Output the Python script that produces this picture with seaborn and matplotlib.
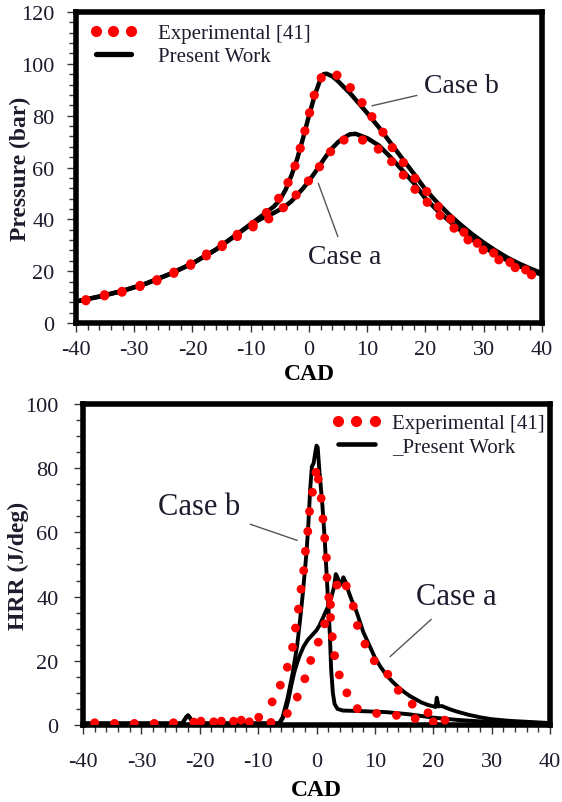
import matplotlib
matplotlib.use("Agg")
import matplotlib.pyplot as plt
from matplotlib.lines import Line2D
from matplotlib.ticker import MultipleLocator
import seaborn as sns

# --- Pressure : experimental points
p_exp_b_cad = [-38.3, -35.1, -32.1, -29.0, -26.1, -23.2, -20.3, -17.6, -14.9, -12.3, -9.6, -7.3,
               -5.2, -3.6, -2.4, -1.5, -0.7, 0.1, 0.9, 2.1, 4.8, 7.1, 9.1, 10.8, 12.7, 14.3,
               16.2, 18.2, 20.2, 22.2, 24.3, 26.6, 28.9, 31.7, 34.5, 37.2]
p_exp_b = [9.0, 10.9, 12.2, 14.5, 16.7, 19.6, 22.8, 26.6, 30.2, 34.2, 38.0, 42.6,
           48.1, 54.2, 60.6, 67.4, 74.1, 81.1, 87.9, 94.6, 95.6, 90.8, 85.0, 79.6, 73.6, 67.7,
           61.9, 55.8, 50.7, 44.9, 40.1, 35.0, 30.8, 27.0, 23.4, 20.5]
p_exp_a_cad = [-38.3, -35.1, -32.1, -29.0, -26.1, -23.2, -20.3, -17.6, -14.9, -12.3, -9.6, -6.9,
               -4.4, -2.2, -0.1, 1.8, 3.7, 6.0, 9.2, 11.9, 14.2, 16.2, 18.2, 20.3, 22.5, 24.9,
               27.3, 29.9, 32.6, 35.4, 38.2]
p_exp_a = [8.6, 10.5, 11.9, 14.1, 16.3, 19.2, 22.3, 25.9, 29.5, 33.4, 37.1, 40.2,
           44.5, 49.4, 54.8, 60.3, 66.1, 70.6, 70.6, 67.1, 62.3, 57.1, 51.6, 46.6, 41.5, 36.6,
           32.1, 28.2, 24.4, 21.4, 18.6]

# --- Pressure : present work
p_sim_cad = [-40, -36, -32, -28, -24, -20, -16, -12, -10, -8, -6, -5, -4, -3, -2, -1, 0, 1, 2,
             2.5, 3, 4, 5, 6, 7, 8, 10, 12, 14, 16, 18, 20, 22, 24, 26, 28, 30, 32, 34, 36, 38, 40]
p_sim_b = [8.3, 10.2, 12.4, 15.2, 18.8, 23.0, 28.3, 34.8, 38.2, 41.5, 45.0, 47.5, 51.5, 57.0,
           63.5, 71.5, 80.0, 88.0, 94.3, 96.0, 96.2, 95.2, 93.3, 91.0, 88.8, 86.2, 81.0, 75.5,
           69.5, 63.5, 57.6, 51.5, 46.5, 42.0, 38.0, 34.3, 31.0, 28.0, 25.3, 23.0, 21.0, 19.2]
p_sim_a = [8.3, 10.2, 12.4, 15.2, 18.8, 23.0, 28.3, 34.8, 38.0, 40.5, 42.5, 43.8, 45.2, 47.0,
           49.5, 52.0, 54.8, 58.0, 61.3, 63.0, 64.6, 67.5, 69.8, 71.5, 72.8, 73.0, 71.3, 68.5,
           64.0, 59.0, 54.0, 48.0, 43.5, 39.5, 35.8, 32.3, 29.3, 26.6, 24.2, 22.0, 20.2, 18.6]

# --- HRR : experimental points
h_exp_b_cad = [-38.0, -31.2, -24.5, -17.6, -14.2, -9.9, -7.6, -6.2, -5.0, -4.1, -3.6, -3.1,
               -2.65, -2.2, -1.9, -1.5, -1.2, -0.7, -0.1, 0.3, 0.8, 1.1, 1.4, 1.7, 1.8, 2.1,
               2.4, 2.7, 3.1, 3.9, 5.2, 7.0, 10.3, 13.7, 16.9, 20.0]
h_exp_b = [0.7, 0.5, 0.7, 1.0, 1.2, 2.4, 7.2, 12.4, 18.0, 24.2, 30.2, 36.1,
           42.3, 48.1, 54.1, 60.3, 66.5, 72.5, 78.7, 76.6, 70.6, 64.2, 58.2, 52.1, 45.9, 39.7,
           33.5, 27.5, 21.6, 15.6, 10.0, 5.1, 3.6, 3.0, 2.0, 1.0]
h_exp_a_cad = [-34.6, -27.8, -21.0, -19.8, -16.3, -12.9, -11.5, -7.8, -5.0, -3.3, -2.0, -1.0,
               0.3, 1.4, 2.4, 3.5, 5.1, 6.3, 7.0, 8.3, 9.9, 12.2, 14.0, 16.4, 19.1, 22.0]
h_exp_a = [0.5, 0.5, 0.9, 1.2, 1.2, 1.5, 1.0, 0.8, 3.6, 8.7, 14.4, 20.1,
           25.8, 31.5, 37.5, 43.6, 43.3, 37.0, 31.0, 25.2, 20.0, 15.8, 10.8, 6.5, 3.8, 1.5]

# --- HRR : present work
h_sim_b_cad = [-40, -30, -23, -22.3, -22, -21.6, -21, -10, -7, -6.4, -5.8, -5.0, -4.1, -3.3,
               -2.8, -2.4, -2.1, -1.7, -1.4, -1.1, -0.8, -0.5, -0.2, 0.0, 0.2, 0.5, 1.0, 1.4,
               1.7, 2.0, 2.3, 2.5, 2.8, 3.1, 3.6, 4.5, 8, 12, 16, 20, 24, 30, 35, 40]
h_sim_b = [0.5, 0.5, 0.5, 2.5, 3.0, 2.0, 0.5, 0.5, 0.5, 0.5, 2.5, 8.0, 16.0, 25.0,
           33.0, 40.0, 46.0, 54.0, 62.5, 73.0, 80.5, 81.5, 85.0, 87.0, 86.5, 79.0, 68.6, 58.0,
           48.0, 38.0, 27.5, 17.5, 10.0, 6.5, 5.0, 4.5, 4.3, 4.0, 3.3, 2.3, 1.6, 0.9, 0.6, 0.5]
h_sim_a_cad = [-40, -30, -23, -22.3, -22, -21.6, -21, -10, -7, -6.3, -5.8, -5.3, -4.8, -4.3,
               -3.8, -3.3, -2.8, -2.2, -1.5, -1.0, -0.5, 0, 0.5, 1.0, 1.5, 2.0, 2.5, 3.0, 3.3,
               3.6, 4.0, 4.3, 4.6, 5.0, 5.5, 6.0, 6.5, 7.0, 8.0, 9.0, 10.0, 11.0, 12.0, 13.0,
               14.0, 15.0, 16.0, 17.0, 18.0, 19.0, 20.0, 20.4, 20.6, 20.9, 21.5, 22.0, 23.0,
               24.0, 26.0, 28.0, 30.0, 33.0, 36.0, 40.0]
h_sim_a = [0.5, 0.5, 0.5, 2.5, 3.0, 2.0, 0.5, 0.5, 0.5, 0.6, 2.0, 4.5, 8.0, 12.5,
           16.5, 19.5, 22.0, 24.5, 26.5, 27.5, 28.5, 29.5, 31.0, 33.0, 35.0, 37.0, 39.5, 43.0,
           47.0, 46.0, 43.5, 44.5, 46.0, 44.5, 41.5, 39.0, 37.0, 34.5, 29.0, 25.0, 21.0, 18.0,
           15.5, 13.5, 11.8, 10.3, 9.0, 8.0, 7.0, 6.3, 5.8, 5.6, 8.5, 5.8, 5.9, 5.5, 4.8,
           4.2, 3.2, 2.4, 1.8, 1.3, 1.0, 0.6]

TXT = "#1c1c2c"

sns.set_style("white")
plt.rcParams["font.family"] = ["Liberation Serif", "DejaVu Serif"]
plt.rcParams["axes.unicode_minus"] = False

fig = plt.figure(figsize=(5.62, 8.03), dpi=100)
ax1 = fig.add_axes([0.1352, 0.5965, 0.8292, 0.3873])
ax2 = fig.add_axes([0.1477, 0.0959, 0.831, 0.3998])


def habillage(ax, ymax, ymin_step, xpad, ypad):
    ax.set_xlim(-40, 40)
    ax.set_ylim(0, ymax)
    ax.xaxis.set_major_locator(MultipleLocator(10))
    ax.xaxis.set_minor_locator(MultipleLocator(2))
    ax.yaxis.set_major_locator(MultipleLocator(20))
    ax.yaxis.set_minor_locator(MultipleLocator(ymin_step))
    for s in ax.spines.values():
        s.set_linewidth(4)
        s.set_color("black")
    ax.tick_params(which="both", direction="out", bottom=True, left=True, top=False,
                   right=False, color="#333333", width=1)
    ax.tick_params(which="major", length=6.5)
    ax.tick_params(which="minor", length=5)
    ax.tick_params(axis="x", which="major", pad=xpad, labelsize=16, labelcolor=TXT)
    ax.tick_params(axis="y", which="major", pad=ypad, labelsize=16, labelcolor=TXT)


# ---------------- Pressure
for xs, ys in [(p_sim_cad, p_sim_b), (p_sim_cad, p_sim_a)]:
    sns.lineplot(x=xs, y=ys, ax=ax1, color="black", lw=3.2, sort=False, estimator=None, zorder=2)
for xs, ys in [(p_exp_b_cad, p_exp_b), (p_exp_a_cad, p_exp_a)]:
    sns.scatterplot(x=xs, y=ys, ax=ax1, color="red", s=44, edgecolor="none", zorder=3)
habillage(ax1, 120, 4, 6, 9)
ax1.set_xlabel("CAD", fontsize=17, fontweight="bold", color="black")
ax1.set_ylabel("Pressure (bar)", fontsize=17, fontweight="bold", color=TXT)
ax1.xaxis.set_label_coords(0.5, -0.128)
ax1.yaxis.set_label_coords(-0.097, 0.5)

leg_h1 = [Line2D([], [], ls="none", marker="o", color="red", markersize=7),
          Line2D([], [], color="black", lw=3.8)]
leg1 = ax1.legend(leg_h1, ["Experimental [41]", "Present Work"], loc="upper left",
                  bbox_to_anchor=(0.030, 0.962), frameon=False, fontsize=15, numpoints=3,
                  handlelength=2.25, handletextpad=1.0, labelspacing=0.15, borderpad=0,
                  borderaxespad=0)
for t in leg1.get_texts():
    t.set_color(TXT)

fleche = dict(arrowstyle="-", color="#555555", lw=1, shrinkA=3, shrinkB=0)
ax1.annotate("Case b", xy=(10.8, 83.8), xytext=(26.2, 91.8), ha="center", va="center",
             fontsize=20, color=TXT, arrowprops=fleche)
ax1.annotate("Case a", xy=(1.6, 53.9), xytext=(6.2, 25.7), ha="center", va="center",
             fontsize=20, color=TXT, arrowprops=fleche)

# ---------------- HRR
for xs, ys in [(h_sim_b_cad, h_sim_b), (h_sim_a_cad, h_sim_a)]:
    sns.lineplot(x=xs, y=ys, ax=ax2, color="black", lw=2.8, sort=False, estimator=None, zorder=2)
for xs, ys in [(h_exp_b_cad, h_exp_b), (h_exp_a_cad, h_exp_a)]:
    sns.scatterplot(x=xs, y=ys, ax=ax2, color="red", s=40, edgecolor="none", zorder=3)
habillage(ax2, 100, 5, 13, 11)
ax2.set_xlabel("CAD", fontsize=17, fontweight="bold", color="black")
ax2.set_ylabel("HRR (J/deg)", fontsize=17, fontweight="bold", color=TXT)
ax2.xaxis.set_label_coords(0.5, -0.168)
ax2.yaxis.set_label_coords(-0.115, 0.5)

leg_h2 = [Line2D([], [], ls="none", marker="o", color="red", markersize=7),
          Line2D([], [], color="black", lw=3.3)]
leg2 = ax2.legend(leg_h2, ["Experimental [41]", "_Present Work"], loc="upper left",
                  bbox_to_anchor=(0.532, 0.970), frameon=False, fontsize=15, numpoints=3,
                  handlelength=2.4, handletextpad=0.5, labelspacing=0.15, borderpad=0,
                  borderaxespad=0)
for t in leg2.get_texts():
    t.set_color(TXT)

ax2.annotate("Case b", xy=(-3.3, 57.5), xytext=(-20.1, 68), ha="center", va="center",
             fontsize=22, color=TXT, arrowprops=dict(fleche, shrinkA=5))
ax2.annotate("Case a", xy=(12.6, 21.3), xytext=(23.9, 39.9), ha="center", va="center",
             fontsize=22, color=TXT, arrowprops=dict(fleche, shrinkA=5))

fig.savefig("out.png", dpi=100)
